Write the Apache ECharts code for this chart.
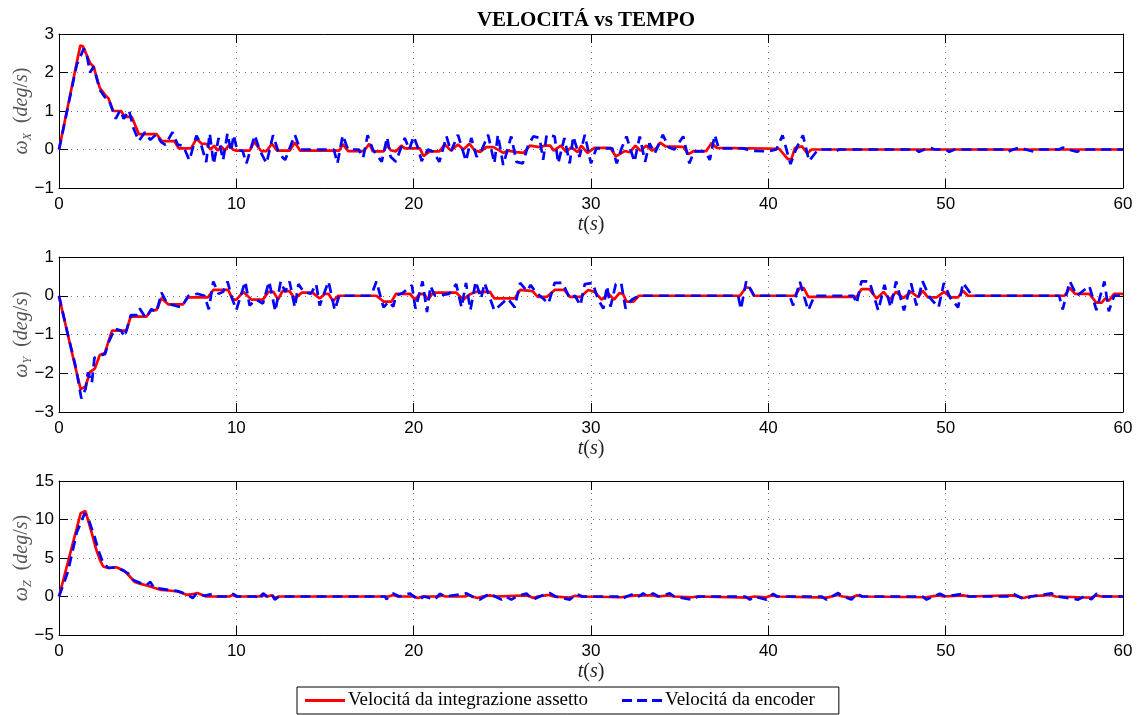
<!DOCTYPE html>
<html>
<head>
<meta charset="utf-8">
<script src="https://cdn.jsdelivr.net/npm/echarts@6/dist/echarts.min.js"></script>
<style>
  html, body { margin: 0; padding: 0; background: #fff; }
  #chart { width: 1143px; height: 715px; }
</style>
</head>
<body>
<div id="chart"></div>
<script>
// Angular velocity about X, Y, Z: attitude-integration estimate (red) vs encoder (blue).
// Each series is a list of [time (s), value (deg/s)] samples.

const seriesNames = ['Velocitá da integrazione assetto', 'Velocitá da encoder'];
const timeTicks = [0, 10, 20, 30, 40, 50, 60];
const yTicksX = [-1, 0, 1, 2, 3];
const yTicksY = [-3, -2, -1, 0, 1];
const yTicksZ = [-5, 0, 5, 10, 15];

const redX = [[0,0],[1.2,2.7],[1.35,2.68],[1.75,2.25],[1.95,2.15],[2.3,1.6],[2.6,1.42],[2.8,1.32],[3.05,1.0],[3.5,1.0],[3.7,0.85],[4.1,0.85],[4.5,0.4],[5.5,0.4],[5.8,0.22],[6.5,0.22],[6.75,0.03],[7.45,0.03],[7.75,0.28],[8.05,0.15],[8.3,0.15],[8.55,0.0],[8.75,0.1],[8.95,-0.03],[9.15,0.08],[9.35,-0.02],[9.6,0.12],[9.8,0.0],[10.0,-0.03],[10.75,-0.03],[11.0,0.2],[11.4,-0.04],[11.7,-0.04],[12.0,0.15],[12.3,-0.03],[13.0,-0.03],[13.3,0.18],[13.6,-0.03],[15.8,-0.03],[16.0,0.14],[16.3,-0.04],[17.2,-0.04],[17.5,0.15],[17.7,-0.05],[18.3,-0.05],[18.5,0.12],[18.7,-0.02],[19.0,-0.05],[19.3,0.1],[19.5,0.03],[20.35,0.03],[20.55,-0.17],[20.9,-0.05],[21.45,-0.05],[21.75,0.13],[22.1,-0.03],[22.5,0.13],[22.8,0.0],[23.15,0.15],[23.45,-0.03],[23.75,-0.06],[24.1,0.06],[24.5,0.06],[24.85,-0.03],[25.05,-0.09],[25.3,-0.03],[25.8,-0.07],[26.2,-0.09],[26.55,0.1],[27.1,0.06],[27.4,0.1],[27.7,0.1],[27.9,-0.03],[28.3,0.1],[28.6,-0.06],[28.9,0.06],[29.25,-0.07],[29.45,0.1],[29.8,-0.09],[30.2,0.04],[31.1,0.04],[31.4,-0.18],[31.9,-0.04],[32.2,-0.07],[32.5,0.1],[32.8,-0.03],[33.1,0.1],[33.45,-0.03],[33.7,0.04],[33.9,0.18],[34.2,0.08],[35.2,0.07],[35.5,-0.12],[35.8,-0.04],[36.5,-0.04],[36.8,0.17],[37.1,0.04],[40.6,0.02],[40.65,0.02],[41.1,-0.25],[41.3,-0.25],[41.5,0.04],[41.9,0.08],[42.2,-0.1],[42.45,0.0],[60,0.0]];

const blueX = [[0,0],[0.5,1.1],[1.0,2.2],[1.4,2.62],[1.55,2.5],[1.75,2.0],[1.95,2.15],[2.05,2.1],[2.3,1.55],[2.6,1.35],[2.8,1.3],[3.0,1.05],[3.2,0.8],[3.45,1.02],[3.65,0.8],[3.95,1.02],[4.2,0.55],[4.5,0.22],[4.85,0.45],[5.15,0.25],[5.5,0.4],[5.75,0.2],[6.0,0.12],[6.4,0.45],[6.7,0.12],[7.0,0.1],[7.35,-0.28],[7.75,0.36],[8.0,0.15],[8.3,-0.33],[8.5,0.42],[8.72,-0.38],[9.0,0.3],[9.25,-0.28],[9.5,0.42],[9.7,-0.05],[9.85,0.38],[10.05,-0.03],[10.35,-0.03],[10.57,-0.36],[11.04,0.37],[11.3,0.0],[11.7,-0.36],[12.07,0.37],[12.35,-0.03],[12.6,-0.2],[12.75,-0.27],[13.3,0.38],[13.6,0.0],[15.5,0.0],[15.7,-0.36],[16.0,0.37],[16.3,0.0],[16.9,0.0],[17.15,-0.22],[17.4,0.37],[17.7,0.0],[18.2,-0.32],[18.5,0.32],[18.7,-0.19],[19.0,-0.32],[19.25,0.0],[19.5,0.3],[19.75,0.0],[20.0,0.34],[20.25,0.03],[20.45,-0.3],[20.8,0.0],[21.1,-0.06],[21.45,-0.32],[21.85,0.34],[22.1,-0.05],[22.5,0.38],[22.95,-0.3],[23.25,0.3],[23.55,-0.19],[23.85,0.0],[24.2,0.38],[24.55,-0.36],[24.75,0.38],[25.05,-0.4],[25.5,0.34],[25.8,-0.32],[26.15,-0.36],[26.45,0.1],[26.75,0.34],[27.1,0.3],[27.3,-0.27],[27.5,0.38],[27.95,0.34],[28.15,-0.36],[28.5,0.3],[28.8,-0.36],[29.0,0.34],[29.35,-0.19],[29.65,0.38],[30.0,-0.36],[30.3,0.03],[31.2,0.03],[31.45,-0.36],[31.7,0.0],[32.0,0.34],[32.45,-0.32],[32.75,0.34],[33.05,-0.32],[33.3,0.16],[33.6,-0.1],[34.05,0.38],[34.4,0.05],[34.7,0.0],[35.2,0.34],[35.55,-0.36],[35.8,-0.05],[36.45,-0.05],[36.7,-0.27],[36.98,0.38],[37.2,0.03],[38.6,0.03],[39.0,-0.03],[40.0,-0.05],[40.45,0.0],[40.8,0.37],[41.25,-0.38],[41.6,0.05],[41.95,0.37],[42.3,-0.3],[42.8,0.0],[43.5,0.0],[43.75,-0.06],[44.0,0.0],[48.3,0.0],[48.5,-0.06],[48.8,0.0],[49.1,0.05],[49.4,0.0],[50.0,0.0],[50.2,-0.06],[50.5,0.0],[53.3,0.0],[53.5,-0.06],[53.8,0.0],[54.2,0.05],[54.5,0.0],[55.0,-0.06],[55.3,0.0],[56.4,0.0],[56.6,0.05],[56.9,0.0],[57.4,-0.06],[57.7,0.0],[60,0.0]];

const redY = [[0,-0.02],[0.9,-1.8],[1.22,-2.41],[1.49,-2.35],[1.74,-1.97],[2.02,-1.88],[2.3,-1.53],[2.58,-1.48],[2.99,-0.9],[3.8,-0.9],[4.04,-0.54],[4.93,-0.54],[5.2,-0.37],[5.5,-0.37],[5.78,-0.06],[6.15,-0.22],[7.0,-0.22],[7.27,-0.04],[8.4,-0.04],[8.7,0.15],[9.54,0.15],[9.8,-0.1],[10.0,-0.1],[10.4,0.1],[10.85,-0.1],[11.5,-0.1],[11.8,0.1],[12.1,0.1],[12.35,-0.1],[12.6,0.12],[13.0,0.12],[13.3,-0.07],[13.7,0.08],[14.3,0.08],[14.7,-0.07],[15.0,0.05],[15.2,0.05],[15.45,-0.14],[15.75,0.0],[17.9,0.0],[18.3,-0.15],[18.75,-0.15],[19.0,0.05],[19.8,0.05],[20.06,-0.1],[20.35,0.05],[20.6,0.04],[20.8,-0.1],[21.1,0.08],[22.4,0.08],[22.8,-0.1],[23.15,0.03],[23.5,0.1],[24.3,0.1],[24.55,-0.07],[25.7,-0.07],[26.0,0.15],[26.7,0.12],[27.0,-0.03],[27.5,-0.03],[27.95,0.15],[28.5,0.15],[28.8,-0.03],[29.4,-0.03],[29.85,0.15],[30.2,0.1],[30.6,-0.1],[31.0,0.05],[31.3,-0.1],[31.6,0.07],[31.8,0.05],[32.0,-0.15],[32.4,-0.15],[32.7,0.0],[38.4,0.0],[38.75,0.22],[38.95,0.2],[39.2,0.0],[41.5,0.0],[41.78,0.2],[42.0,0.2],[42.25,-0.03],[44.98,-0.03],[45.25,0.17],[45.7,0.17],[46.1,-0.07],[46.5,0.1],[46.85,-0.1],[47.2,0.1],[47.6,-0.06],[48.05,0.1],[48.45,-0.04],[48.7,0.13],[49.0,-0.04],[49.5,-0.04],[49.9,0.1],[50.3,-0.04],[50.7,-0.04],[50.98,0.13],[51.25,0.0],[56.7,0.0],[57.0,0.2],[57.3,0.05],[58.1,0.05],[58.5,-0.18],[58.8,-0.18],[59.0,-0.07],[59.2,-0.13],[59.5,0.05],[60,0.05]];

const blueY = [[0,0],[0.5,-1.0],[0.95,-1.85],[1.26,-2.65],[1.5,-2.4],[1.63,-1.98],[1.85,-2.25],[2.0,-1.6],[2.3,-1.55],[2.6,-1.5],[2.8,-1.2],[3.15,-0.85],[3.5,-0.9],[3.7,-1.06],[4.05,-0.5],[4.4,-0.5],[4.55,-0.33],[4.9,-0.58],[5.2,-0.35],[5.5,-0.42],[5.78,0.08],[6.1,-0.2],[6.5,-0.25],[6.9,-0.3],[7.3,0.0],[7.8,0.05],[8.2,0.0],[8.45,-0.35],[8.7,0.37],[9.0,0.05],[9.25,0.1],[9.5,0.37],[9.75,-0.05],[10.0,-0.37],[10.5,0.37],[10.75,-0.25],[11.1,-0.1],[11.5,-0.2],[11.85,0.37],[12.2,-0.4],[12.5,0.37],[12.75,0.1],[13.0,0.37],[13.3,-0.3],[13.5,0.3],[13.8,0.1],[14.2,0.05],[14.5,0.3],[14.7,-0.25],[15.2,0.37],[15.55,-0.37],[15.8,0.0],[17.6,0.0],[17.9,0.37],[18.3,-0.3],[18.6,-0.15],[18.85,-0.28],[19.0,0.0],[19.4,0.08],[19.9,0.27],[20.1,-0.33],[20.5,0.37],[20.75,-0.42],[20.95,0.25],[21.2,0.0],[22.0,0.05],[22.4,0.3],[22.7,-0.3],[22.95,0.33],[23.2,-0.37],[23.5,0.37],[23.8,-0.07],[24.0,0.33],[24.55,-0.38],[25.3,-0.07],[25.7,-0.3],[26.0,0.33],[26.4,0.12],[26.6,0.28],[26.9,0.08],[27.3,-0.07],[27.6,-0.2],[27.95,0.33],[28.4,0.33],[28.8,-0.07],[29.1,0.0],[29.4,-0.25],[29.65,0.3],[30.1,0.33],[30.4,-0.1],[30.7,-0.33],[30.9,0.25],[31.1,-0.28],[31.4,0.3],[31.7,0.33],[31.95,-0.33],[32.3,-0.1],[32.7,0.0],[38.3,0.0],[38.45,-0.35],[38.75,0.37],[39.2,0.0],[41.2,0.0],[41.4,-0.25],[41.78,0.36],[42.25,-0.38],[42.6,0.0],[44.8,0.0],[44.98,-0.2],[45.25,0.37],[45.7,0.37],[46.2,-0.38],[46.55,0.28],[46.9,-0.3],[47.2,0.37],[47.65,-0.38],[48.05,0.32],[48.35,-0.25],[48.7,0.37],[49.1,-0.05],[49.6,-0.3],[49.9,0.33],[50.25,-0.05],[50.7,-0.3],[50.98,0.33],[51.5,0.0],[56.4,0.0],[56.6,-0.35],[57.0,0.37],[57.4,0.0],[58.1,0.25],[58.5,-0.37],[58.95,0.37],[59.2,-0.4],[59.5,0.0],[60,0.0]];

const redZ = [[0,0],[1.22,10.8],[1.49,11.1],[1.83,8.4],[2.1,6.1],[2.3,4.8],[2.49,3.9],[2.77,3.7],[3.24,3.8],[3.52,3.5],[3.7,3.3],[3.99,2.6],[4.27,1.9],[4.65,1.6],[5.0,1.4],[5.4,1.1],[5.77,0.86],[6.2,0.78],[6.7,0.65],[7.2,0.22],[7.55,0.3],[7.8,0.45],[8.3,0.0],[9.6,0.0],[9.8,0.2],[10.0,0.0],[11.3,0.0],[11.5,0.3],[11.7,0.0],[12.0,0.15],[12.2,-0.2],[12.4,0.0],[18.6,0.0],[18.84,0.2],[19.1,0.0],[20.0,0.0],[20.25,-0.2],[20.5,0.0],[21.4,0.0],[21.6,0.15],[21.8,0.0],[22.9,0.0],[23.1,0.2],[23.3,0.0],[23.6,-0.2],[23.9,0.0],[24.3,0.15],[24.6,0.0],[26.4,0.15],[26.75,-0.2],[27.0,0.0],[27.6,0.2],[27.9,0.0],[28.8,-0.15],[29.1,0.1],[29.4,0.0],[31.7,-0.1],[32.0,0.0],[32.5,0.15],[32.9,0.15],[33.5,0.15],[33.8,0.0],[34.4,0.15],[34.7,0.0],[35.7,-0.1],[36.0,0.0],[38.9,-0.15],[39.2,0.0],[39.9,-0.1],[40.2,0.15],[40.5,0.0],[43.3,-0.15],[43.9,0.2],[44.2,0.0],[44.7,-0.15],[45.0,0.15],[45.3,0.0],[48.9,-0.1],[49.6,0.15],[49.9,0.0],[51.0,0.15],[51.3,0.0],[53.8,0.15],[54.4,-0.2],[54.7,0.0],[55.95,0.2],[56.2,0.0],[57.5,-0.1],[58.2,-0.15],[58.5,0.15],[58.8,0.0],[60,0.0]];

const blueZ = [[0,0],[0.5,3.2],[1.0,8.3],[1.45,10.8],[1.7,9.8],[2.0,7.8],[2.25,5.8],[2.5,4.3],[2.8,3.7],[3.2,3.8],[3.6,3.4],[3.9,3.0],[4.2,2.1],[4.6,1.75],[4.95,1.5],[5.15,1.9],[5.35,1.1],[5.8,1.0],[6.2,0.85],[6.7,0.7],[7.2,0.3],[7.55,-0.2],[7.75,0.4],[8.2,0.1],[8.69,0.35],[8.95,0.0],[9.6,0.0],[9.82,0.35],[10.05,0.0],[11.1,0.0],[11.32,-0.4],[11.51,0.4],[11.75,0.0],[11.98,0.35],[12.17,-0.4],[12.4,0.0],[18.4,0.0],[18.46,-0.35],[18.84,0.4],[19.2,0.0],[19.78,0.4],[20.25,-0.4],[20.6,0.0],[21.19,-0.4],[21.47,0.35],[21.8,0.0],[22.98,0.4],[23.3,0.0],[23.73,-0.4],[24.0,0.0],[24.29,0.4],[24.6,0.0],[24.95,-0.4],[25.2,0.0],[25.51,-0.4],[25.8,0.0],[26.36,0.4],[26.74,-0.4],[27.1,0.0],[27.68,0.45],[28.0,0.0],[28.81,-0.4],[29.18,0.35],[29.5,0.0],[31.5,0.0],[31.72,-0.4],[32.0,0.0],[32.47,0.4],[32.7,0.0],[32.94,0.4],[33.2,0.0],[33.5,0.4],[33.8,0.0],[34.44,0.4],[34.7,0.0],[35.76,-0.45],[36.0,0.0],[38.7,0.0],[38.96,-0.4],[39.2,0.0],[39.9,-0.4],[40.27,0.35],[40.5,0.0],[43.0,0.0],[43.28,-0.4],[43.94,0.45],[44.2,0.0],[44.69,-0.4],[44.97,0.35],[45.3,0.0],[48.7,0.0],[48.92,-0.4],[49.3,0.0],[49.67,0.35],[50.0,0.0],[50.99,0.35],[51.3,0.0],[53.6,0.0],[53.81,0.35],[54.1,0.0],[54.47,-0.4],[54.8,0.0],[55.97,0.4],[56.3,0.0],[57.47,-0.4],[57.8,0.0],[58.22,-0.35],[58.51,0.35],[58.8,0.0],[60,0.0]];

const panels = [
  { sub: 'X', ticks: yTicksX, red: redX, blue: blueX },
  { sub: 'Y', ticks: yTicksY, red: redY, blue: blueY },
  { sub: 'Z', ticks: yTicksZ, red: redZ, blue: blueZ }
];

const SERIF = '"Liberation Serif", "DejaVu Serif", serif';
const SANS = '"Liberation Sans", Arial, sans-serif';
const minus = v => String(v).replace('-', '\u2212');

const gridBoxes = [
  { left: 59, right: 20, top: 34, height: 154, containLabel: false, outerBoundsMode: 'none' },
  { left: 59, right: 20, top: 257, height: 155, containLabel: false, outerBoundsMode: 'none' },
  { left: 59, right: 20, top: 481, height: 154, containLabel: false, outerBoundsMode: 'none' }
];

const frameLine = { show: true, onZero: false, lineStyle: { color: '#000', width: 1 } };
const innerTick = { show: true, inside: true, length: 9, lineStyle: { color: '#000', width: 1 } };
const dottedGrid = { show: true, lineStyle: { color: '#777', width: 1, type: [1, 5] } };

const xAxes = [], yAxes = [], series = [];

panels.forEach((p, i) => {
  const tMin = timeTicks[0], tMax = timeTicks[timeTicks.length - 1];
  const tStep = timeTicks[1] - timeTicks[0];
  const yMin = p.ticks[0], yMax = p.ticks[p.ticks.length - 1];
  const yStep = p.ticks[1] - p.ticks[0];

  // bottom axis with labels and title
  xAxes.push({
    type: 'value', gridIndex: i, position: 'bottom',
    min: tMin, max: tMax, interval: tStep,
    axisLine: frameLine, axisTick: innerTick, splitLine: dottedGrid,
    axisLabel: { color: '#000', fontFamily: SANS, fontSize: 17, margin: 8, formatter: minus },
    name: '{i|t}{n|(}{i|s}{n|)}', nameLocation: 'middle', nameGap: 27, nameMoveOverlap: false,
    nameTextStyle: {
      rich: {
        i: { fontFamily: SERIF, fontStyle: 'italic', fontSize: 20, color: '#222' },
        n: { fontFamily: SERIF, fontSize: 20, color: '#222' }
      }
    }
  });
  // mirrored top frame
  xAxes.push({
    type: 'value', gridIndex: i, position: 'top',
    min: tMin, max: tMax, interval: tStep,
    axisLine: frameLine, axisTick: innerTick, axisLabel: { show: false }, splitLine: { show: false }
  });
  // left axis with labels and title
  yAxes.push({
    type: 'value', gridIndex: i, position: 'left',
    min: yMin, max: yMax, interval: yStep,
    axisLine: frameLine, axisTick: innerTick, splitLine: dottedGrid,
    axisLabel: { color: '#000', fontFamily: SANS, fontSize: 17, margin: 5, formatter: minus },
    name: '{w|ω}{s|' + p.sub + '}{n|  (}{w|deg}{n|/}{w|s}{n|)}',
    nameLocation: 'middle', nameRotate: 90, nameGap: 25, nameMoveOverlap: false,
    nameTextStyle: {
      rich: {
        w: { fontFamily: SERIF, fontStyle: 'italic', fontSize: 20, color: '#555', lineHeight: 24 },
        n: { fontFamily: SERIF, fontSize: 20, color: '#555', lineHeight: 24 },
        s: { fontFamily: SERIF, fontStyle: 'italic', fontSize: 12, color: '#555', lineHeight: 13, verticalAlign: 'bottom' }
      }
    }
  });
  // mirrored right frame
  yAxes.push({
    type: 'value', gridIndex: i, position: 'right',
    min: yMin, max: yMax, interval: yStep,
    axisLine: frameLine, axisTick: innerTick, axisLabel: { show: false }, splitLine: { show: false }
  });

  series.push({
    name: seriesNames[0], type: 'line', xAxisIndex: 2 * i, yAxisIndex: 2 * i,
    data: p.red, symbol: 'none', silent: true,
    lineStyle: { color: '#ff0000', width: 2.7 }, itemStyle: { color: '#ff0000' }
  });
  series.push({
    name: seriesNames[1], type: 'line', xAxisIndex: 2 * i, yAxisIndex: 2 * i,
    data: p.blue, symbol: 'none', silent: true,
    lineStyle: { color: '#0000ff', width: 2.7, type: [10, 6] }, itemStyle: { color: '#0000ff' }
  });
});

// legend keys: a solid stroke and three dashes, drawn as thin filled bars
const solidKey = 'path://M0,0h40v3h-40z';
const dashedKey = 'path://M0,0h10v3h-10z M15,0h10v3h-10z M30,0h10v3h-10z';

const chart = echarts.init(document.getElementById('chart'), null, { renderer: 'canvas' });
chart.setOption({
  animation: false,
  backgroundColor: '#fff',
  title: {
    text: 'VELOCITÁ vs TEMPO',
    left: 581, top: 5, textAlign: 'center',
    textStyle: { fontFamily: SERIF, fontWeight: 'bold', fontSize: 21, color: '#000' }
  },
  legend: {
    data: [
      { name: seriesNames[0], icon: solidKey },
      { name: seriesNames[1], icon: dashedKey }
    ],
    left: 297, top: 687,
    orient: 'horizontal',
    itemWidth: 40, itemHeight: 3, itemGap: 34,
    padding: [4, 24, 4, 8],
    borderColor: '#000', borderWidth: 1,
    backgroundColor: '#fff',
    selectedMode: false,
    textStyle: { fontFamily: SERIF, fontSize: 19, color: '#000', padding: [0, 0, 0, -2] }
  },
  grid: gridBoxes,
  xAxis: xAxes,
  yAxis: yAxes,
  series: series
});
</script>
</body>
</html>
